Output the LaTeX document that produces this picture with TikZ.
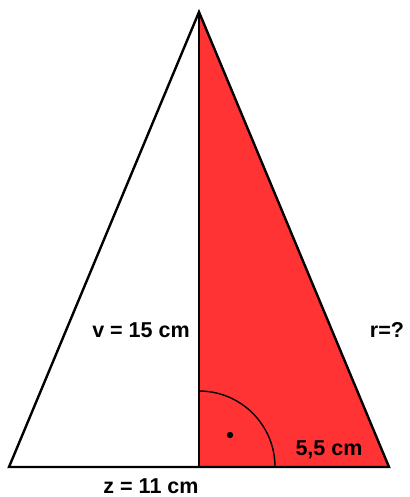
\documentclass[tikz,border=0pt]{standalone}
\usepackage{fontspec}
\setmainfont{Liberation Sans}
\usetikzlibrary{calc}

\definecolor{redfill}{HTML}{FF3333}

\begin{document}
\begin{tikzpicture}[
    x=1pt, y=-1pt,
    edge/.style={line width=2.4pt, line join=miter},
    label/.style={font=\fontsize{21.5}{21.5}\selectfont\bfseries, inner sep=0pt}
]
\useasboundingbox (0,0) rectangle (409,497);

% Corners
\coordinate (apex) at (199,12);
\coordinate (left) at (9,467);
\coordinate (right) at (389,467);
\coordinate (foot) at (199,467);

% Red half
\fill[redfill] (apex) -- (foot) -- (right) -- cycle;

% Right angle
\draw[line width=1.4pt] ($(foot)+(0,-76)$) arc[start angle=-90, end angle=0, radius=76];
\fill ($(foot)+(31,-32)$) circle[radius=3.2];

% Triangle
\draw[edge] (apex) -- (left) -- (right) -- cycle;
\draw[edge] (apex) -- (foot);

% Labels
\node[label] (height) at (141,330) {v = 15 cm};
\node[label] (side) at (387,330) {r=?};
\node[label] (half) at (329,450) {5,5 cm};
\node[label] (base) at (151,486) {z = 11 cm};

\end{tikzpicture}
\end{document}
